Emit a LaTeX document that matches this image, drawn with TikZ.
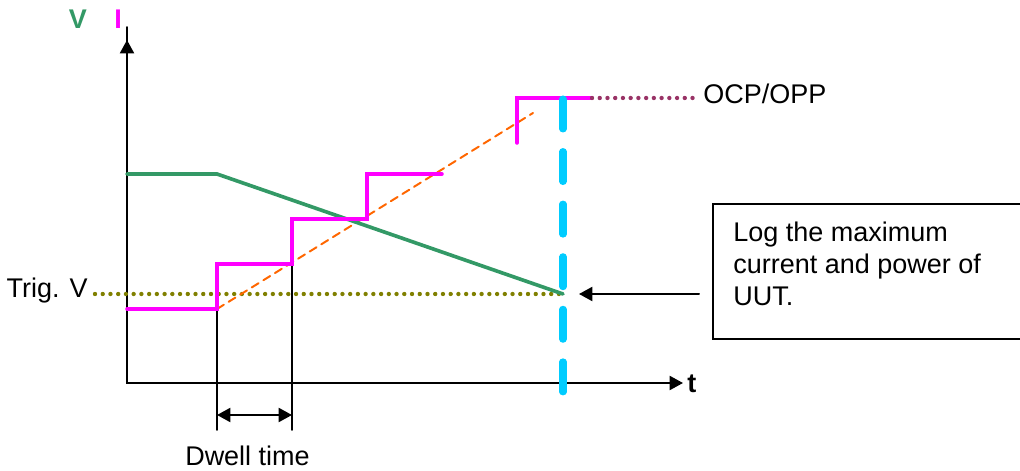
\documentclass[tikz,border=0pt]{standalone}
\usepackage{fontspec}
\setmainfont{Liberation Sans}
\usepackage{tikz}
\usepackage{tkz-euclide}
\usepackage{xcolor}
\usetikzlibrary{arrows.meta}

\definecolor{vgreen}{RGB}{51,153,102}
\definecolor{imagenta}{RGB}{255,0,255}
\definecolor{limcyan}{RGB}{0,204,255}
\definecolor{ramporange}{RGB}{255,102,0}
\definecolor{trigolive}{RGB}{128,128,0}
\definecolor{ocpplum}{RGB}{153,51,102}

\begin{document}
\begin{tikzpicture}[>={Triangle[length=9.5pt,width=10pt]},
    lbl/.style={font=\fontsize{19.2}{22.8}\selectfont, inner sep=0pt},
    boldlbl/.style={font=\fontsize{19.2}{22.8}\selectfont\bfseries, inner sep=0pt},
    dots/.style={line width=3.1pt, line cap=round, dash pattern=on 0pt off 5.5pt},
    thin/.style={black, line width=1.4pt}]
    \useasboundingbox (0,0) rectangle (25.5,11.75);
    \clip (0,0) rectangle (25.5,11.75);
    \tkzDefPoints{3.175/2.175/O,3.175/10.75/Y,17.075/2.175/X}
    \tkzDefPoints{3.175/7.4/G1,5.425/7.4/G2,14.075/4.4/G3}
    \tkzDefPoints{3.175/4.025/M1,5.425/4.025/M2,5.425/5.15/M3,7.3/5.15/M4,
      7.3/6.275/M5,9.175/6.275/M6,9.175/7.4/M7,11.05/7.4/M8}
    \tkzDefPoints{12.925/8.175/N1,12.925/9.3/N2,14.8/9.3/N3,17.5/9.3/N4}
    \tkzDefPoints{13.325/8.925/R,2.375/4.4/T,14.075/9.275/C1,14.075/1.95/C2}
    \tkzDefPoints{17.475/4.4/B,14.475/4.4/A,17.825/6.65/K1,26.5/3.275/K2}
    \tkzDefPoints{5.425/4.425/D1,5.425/1.0/D2,7.3/1.0/D4,5.425/1.375/E1,7.3/1.375/E2}
    % axes
    \tkzDrawPolySeg[thin,<->](Y,O,X)
    % dwell time
    \tkzDrawSegments[thin](D1,D2 M4,D4)
    \tkzDrawSegment[thin,<->](E1,E2)
    % trigger level and ramp
    \tkzDrawSegment[trigolive,dots](T,G3)
    \tkzDrawSegment[ramporange,line width=1.4pt,dash pattern=on 5.7pt off 4pt](M2,R)
    \tkzDrawPolySeg[vgreen,line width=2.6pt](G1,G2,G3)
    \tkzDrawPolySeg[imagenta,line width=2.5pt](M1,M2,M3,M4,M5,M6,M7,M8)
    \tkzDrawPolySeg[imagenta,line width=2.5pt](N1,N2,N3)
    \tkzDrawSegment[ocpplum,dots](N3,N4)
    \tkzDrawSegment[limcyan,line width=5pt,dash pattern=on 21.3pt off 16.1pt](C1,C2)
    % log box
    \draw[thin] (K1) rectangle (K2);
    \tkzDrawSegment[thin,->](B,A)
    % labels
    \node[boldlbl,text=vgreen] (vlab) at (1.95,11.275) {V};
    \node[boldlbl,text=imagenta] (ilab) at (2.95,11.275) {I};
    \node[boldlbl,anchor=west] (tlab) at (17.175,2.16) {t};
    \node[lbl,anchor=base east] (trig) at (2.2,4.3) {Trig. V};
    \node[lbl,anchor=base west] (ocp) at (17.575,9.15) {OCP/OPP};
    \node[lbl,anchor=base] (dwell) at (6.1875,0.125) {Dwell time};
    \node[lbl,anchor=north west,align=left] (log) at (18.325,6.2)
      {Log the maximum\\current and power of\\UUT.};
\end{tikzpicture}
\end{document}
